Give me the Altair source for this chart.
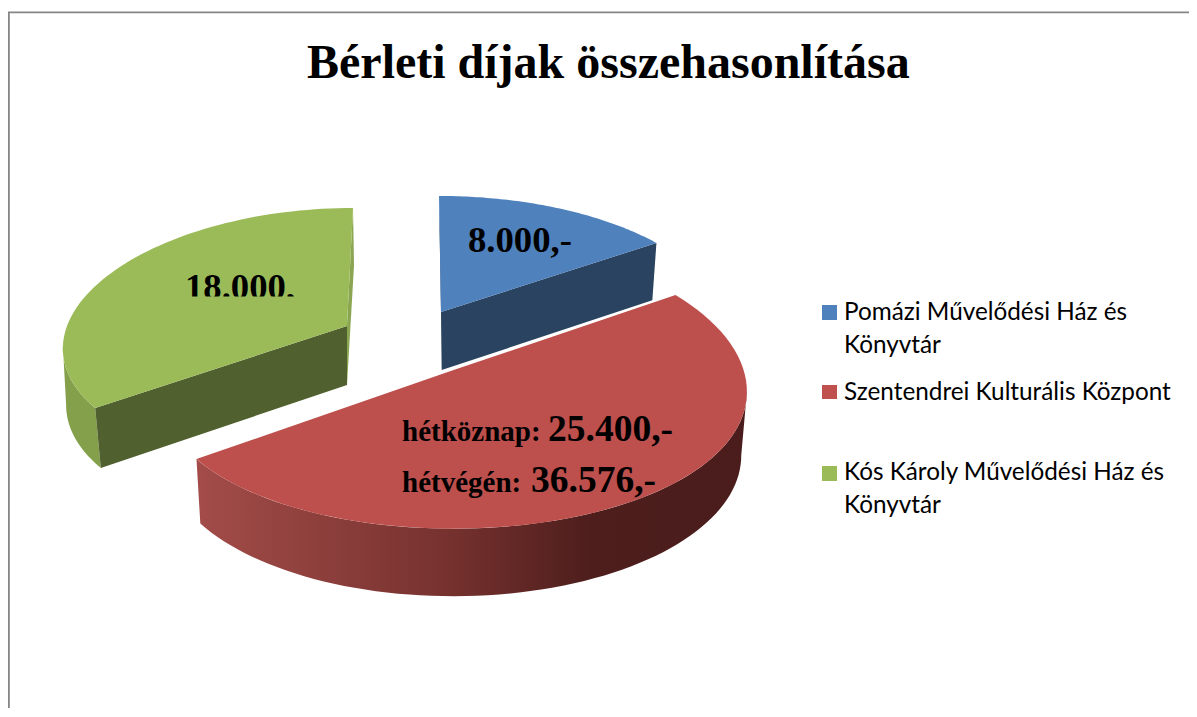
import math
import altair as alt
import pandas as pd

# ---- data ----
names = ["Pomázi Művelődési Ház és Könyvtár", "Szentendrei Kulturális Központ", "Kós Károly Művelődési Ház és Könyvtár"]
values = [8000, 25400, 18000]
colors = ["#4F81BD", "#C0504D", "#9BBB59"]
title_text = "Bérleti díjak összehasonlítása"

W, H = 1181, 700
xs = alt.Scale(domain=[8, 8 + W], range=[0, W])
ys = alt.Scale(domain=[8, 8 + H], range=[0, H])
X = alt.X("x:Q", scale=xs, axis=None)
Y = alt.Y("y:Q", scale=ys, axis=None)

total = sum(values)
angles = []
c = 0
for v in values:
    angles.append((c / total * 2 * math.pi, (c + v) / total * 2 * math.pi))
    c += v

KX = 0.15
T_EXT = math.acos(-KX)  # rim angle at the widest point of the tilted circle


def rim(t, p):
    sx, cy = math.sin(t), math.cos(t)
    x = p["ax"] + p["A"] * sx / (1 + KX * cy) + p.get("sk", 0) * cy
    y = p["ay"] - p["B"] * cy / (1 + p["k"] * cy)
    return x, y


def arc(t0, t1, p, n=70):
    return [rim(t0 + (t1 - t0) * i / n, p) for i in range(n + 1)]


def poly(points, fill):
    pts = list(points) + [points[0]]
    df = pd.DataFrame({"x": [a for a, _ in pts], "y": [b for _, b in pts], "i": range(len(pts))})
    return alt.Chart(df).mark_line(fill=fill, strokeWidth=0, opacity=1, interpolate="linear").encode(
        x=X, y=Y, order="i:Q"
    )


# geometry of each exploded slice: top rim and bottom rim
top = [
    dict(ax=441, ay=312, A=283, B=134.6, k=0.16, sk=-2),
    dict(ax=453.6, ay=370, A=290, B=142, k=0.105),
    dict(ax=347, ay=326, A=280, B=130.6, k=0.107, sk=6),
]
bot = [
    dict(ax=441.7, ay=370, A=276, B=136, k=0.16, sk=-1),
    dict(ax=453, ay=434, A=285, B=139.5, k=0.14),
    dict(ax=347, ay=385, A=277.7, B=132, k=0.107),
]

layers = []


def apex(p):
    return (p["ax"], p["ay"])


# blue
t0, t1 = angles[0]
layers.append(poly([rim(t0, top[0]), apex(top[0]), apex(bot[0]), rim(t0, bot[0])], "#25405F"))
layers.append(poly([apex(top[0]), rim(t1, top[0]), rim(t1, bot[0]), apex(bot[0])], "#2A4361"))
layers.append(poly([apex(top[0])] + arc(t0, t1, top[0]), colors[0]))

# green
t0, t1 = angles[2]
layers.append(poly([rim(t1, top[2]), apex(top[2]), apex(bot[2]), rim(t1, dict(bot[2], sk=7))], "#8AA650"))
layers.append(poly(arc(t0, 2 * math.pi - T_EXT, top[2]) + arc(2 * math.pi - T_EXT, t0, bot[2]), "#84A04B"))
layers.append(poly([apex(top[2]), rim(t0, top[2]), rim(t0, bot[2]), apex(bot[2])], "#50602E"))
layers.append(poly([apex(top[2])] + arc(t0, t1, top[2]), colors[2]))

# red
t0, t1 = angles[1]
red_grad = alt.Gradient(
    gradient="linear", x1=0, x2=1, y1=0, y2=0,
    stops=[
        alt.GradientStop(offset=0, color="#A34C49"),
        alt.GradientStop(offset=0.45, color="#77322F"),
        alt.GradientStop(offset=0.72, color="#4D1E1C"),
        alt.GradientStop(offset=1, color="#4A1C1B"),
    ],
)
layers.append(poly(arc(T_EXT, t1, top[1]) + arc(t1, T_EXT, bot[1]), red_grad))
layers.append(poly([apex(top[1])] + arc(t0, t1, top[1]), "#BD4F4C"))


def text(x, y, s, size, font="Liberation Serif", weight="bold", color="#000000"):
    df = pd.DataFrame({"x": [x], "y": [y], "t": [s]})
    return alt.Chart(df).mark_text(
        align="left", baseline="alphabetic", font=font, fontSize=size, fontWeight=weight, color=color
    ).encode(x=X, y=Y, text="t:N")


def rect(x0, x1, y0, y1, fill):
    df = pd.DataFrame({"x": [x0], "x2": [x1], "y": [y0], "y2": [y1]})
    return alt.Chart(df).mark_rect(color=fill, strokeWidth=0).encode(x=X, x2="x2:Q", y=Y, y2="y2:Q")


def rule(x0, x1, y0, y1):
    df = pd.DataFrame({"x": [x0], "x2": [x1], "y": [y0], "y2": [y1]})
    return alt.Chart(df).mark_rule(color="#868686", strokeWidth=1.8).encode(x=X, x2="x2:Q", y=Y, y2="y2:Q")


# slice labels
layers.append(text(468, 252, "8.000,-", 36.7))
layers.append(text(185, 299, "18.000,", 36.7))
layers.append(rect(180, 305, 296.5, 312, colors[2]))
layers.append(text(402, 441, "hétköznap:", 29))
layers.append(text(548, 441, "25.400,-", 37.5))
layers.append(text(402, 492, "hétvégén:", 29))
layers.append(text(531, 492, "36.576,-", 37.5))

# title
layers.append(text(307, 78, title_text, 48))

# legend
leg_font = "Lato"
leg_size = 24.3
layers.append(rect(822, 837, 305, 320, colors[0]))
layers.append(rect(822, 837, 385, 399, colors[1]))
layers.append(rect(822, 837, 466, 481, colors[2]))
layers.append(text(844, 320, "Pomázi Művelődési Ház és", leg_size, leg_font, "normal"))
layers.append(text(844, 353, "Könyvtár", leg_size, leg_font, "normal"))
layers.append(text(844, 400, names[1], leg_size, leg_font, "normal"))
layers.append(text(844, 480, "Kós Károly Művelődési Ház és", leg_size, leg_font, "normal"))
layers.append(text(844, 513, "Könyvtár", leg_size, leg_font, "normal"))

# chart border
layers.append(rule(8.9, 8.9, 12, 708))
layers.append(rule(8, 1189, 12.4, 12.4))

chart = alt.layer(*layers).properties(
    width=W, height=H, padding=0, autosize=alt.AutoSizeParams(type="none")
).configure_view(stroke=None)

chart.save("out.html", embed_options={"renderer": "svg", "actions": False})
